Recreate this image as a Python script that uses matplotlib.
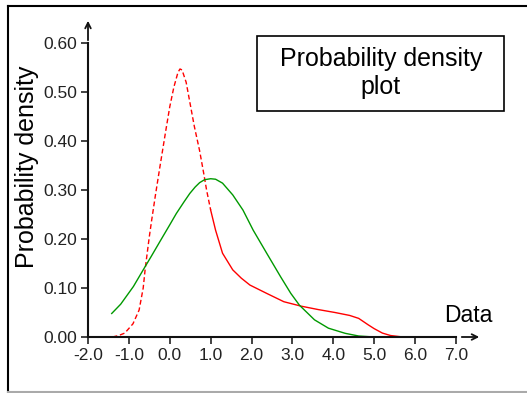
import matplotlib.pyplot as plt
from matplotlib.patches import Rectangle
from matplotlib.lines import Line2D

plt.rcParams['font.family'] = ['Liberation Sans', 'DejaVu Sans']

# Curve data
red_x = [-1.4, -1.25, -1.1, -0.9, -0.75, -0.65, -0.6, -0.5, -0.44, -0.35, -0.24, -0.1,
         0.0, 0.1, 0.2, 0.25, 0.3, 0.4, 0.5, 0.6, 0.73, 0.83, 0.9, 1.0,
         1.12, 1.29, 1.54, 1.75, 1.96, 2.37, 2.79, 3.21, 3.63, 4.04,
         4.4, 4.62, 4.85, 5.0, 5.2, 5.4, 5.7]
red_y = [0.0, 0.003, 0.008, 0.027, 0.055, 0.10, 0.14, 0.205, 0.24, 0.29, 0.348, 0.42,
         0.47, 0.51, 0.54, 0.547, 0.545, 0.52, 0.475, 0.43, 0.38, 0.334, 0.30, 0.259,
         0.218, 0.171, 0.137, 0.12, 0.106, 0.089, 0.072, 0.063, 0.056, 0.05,
         0.044, 0.038, 0.025, 0.017, 0.008, 0.003, 0.0]
red_split = 1.0  # dashed left of this, solid right of it

green_x = [-1.42, -1.2, -0.89, -0.65, -0.45, -0.24, 0.0, 0.16, 0.35, 0.49, 0.62, 0.73, 0.85,
           1.0, 1.12, 1.29, 1.54, 1.79, 2.04, 2.37, 2.71, 2.96, 3.17, 3.54, 3.88,
           4.29, 4.62, 5.0, 6.5]
green_y = [0.048, 0.067, 0.103, 0.137, 0.165, 0.195, 0.229, 0.252, 0.276, 0.293, 0.306, 0.315, 0.321,
           0.323, 0.322, 0.314, 0.29, 0.259, 0.218, 0.171, 0.123, 0.089, 0.065, 0.035, 0.018,
           0.0075, 0.002, 0.0, 0.0]

x_ticks = [-2.0, -1.0, 0.0, 1.0, 2.0, 3.0, 4.0, 5.0, 6.0, 7.0]
y_ticks = [0.0, 0.1, 0.2, 0.3, 0.4, 0.5, 0.6]

W, H = 527, 393
fig = plt.figure(figsize=(W / 100, H / 100), dpi=100)
ax = fig.add_axes([88 / W, (H - 337) / H, (456 - 88) / W, (337 - 43) / H])

i = red_x.index(red_split)
ax.plot(red_x[:i + 1], red_y[:i + 1], color='#ff0000', lw=1.0, dashes=(3.5, 2))
ax.plot(red_x[i:], red_y[i:], color='#ff0000', lw=1.0)
ax.plot(green_x, green_y, color='#009900', lw=1.0, clip_on=False)

ax.set_xlim(-2.0, 7.0)
ax.set_ylim(0.0, 0.6)
ax.set_xticks(x_ticks)
ax.set_yticks(y_ticks)
ax.set_xticklabels([f'{v:.1f}' for v in x_ticks])
ax.set_yticklabels([f'{v:.2f}' for v in y_ticks])
ax.tick_params(direction='out', length=5, width=1.2, labelsize=12.5, colors='#222222', pad=3)

for s in ['top', 'right']:
    ax.spines[s].set_visible(False)
for s in ['left', 'bottom']:
    ax.spines[s].set_linewidth(1.5)
    ax.spines[s].set_color('#111111')

# axis arrows
ax.annotate('', xy=(0, 1 + 25 / 294), xytext=(0, 1), xycoords='axes fraction',
            arrowprops=dict(arrowstyle='->', lw=1.3, color='#111111'))
ax.annotate('', xy=(1 + 26 / 368, 0), xytext=(1 + 3 / 368, 0), xycoords='axes fraction',
            arrowprops=dict(arrowstyle='->', lw=1.3, color='#111111'))

fig.text(27 / W, 1 - 167 / H, 'Probability density', fontsize=18, rotation=90,
         ha='center', va='center')
fig.text(468 / W, 1 - 315 / H, 'Data', fontsize=16.5, ha='center', va='center')

# title box
fig.patches.append(Rectangle((257 / W, 1 - 111 / H), (504 - 257) / W, (111 - 36) / H,
                             transform=fig.transFigure, fill=False, ec='black', lw=1.2))
fig.text(381 / W, 1 - 73 / H, 'Probability density\nplot', fontsize=18,
         ha='center', va='center', multialignment='center', linespacing=1.25)

# outer frame
fig.add_artist(Line2D([8 / W, 8 / W], [1 / H, 1 - 6 / H], transform=fig.transFigure, color='black', lw=1.5))
fig.add_artist(Line2D([8 / W, 1.0], [1 - 6 / H, 1 - 6 / H], transform=fig.transFigure, color='black', lw=1.5))
fig.add_artist(Line2D([8 / W, 1.0], [1 / H, 1 / H], transform=fig.transFigure, color='#aaaaaa', lw=1.5))

plt.savefig('out.png', dpi=100)
